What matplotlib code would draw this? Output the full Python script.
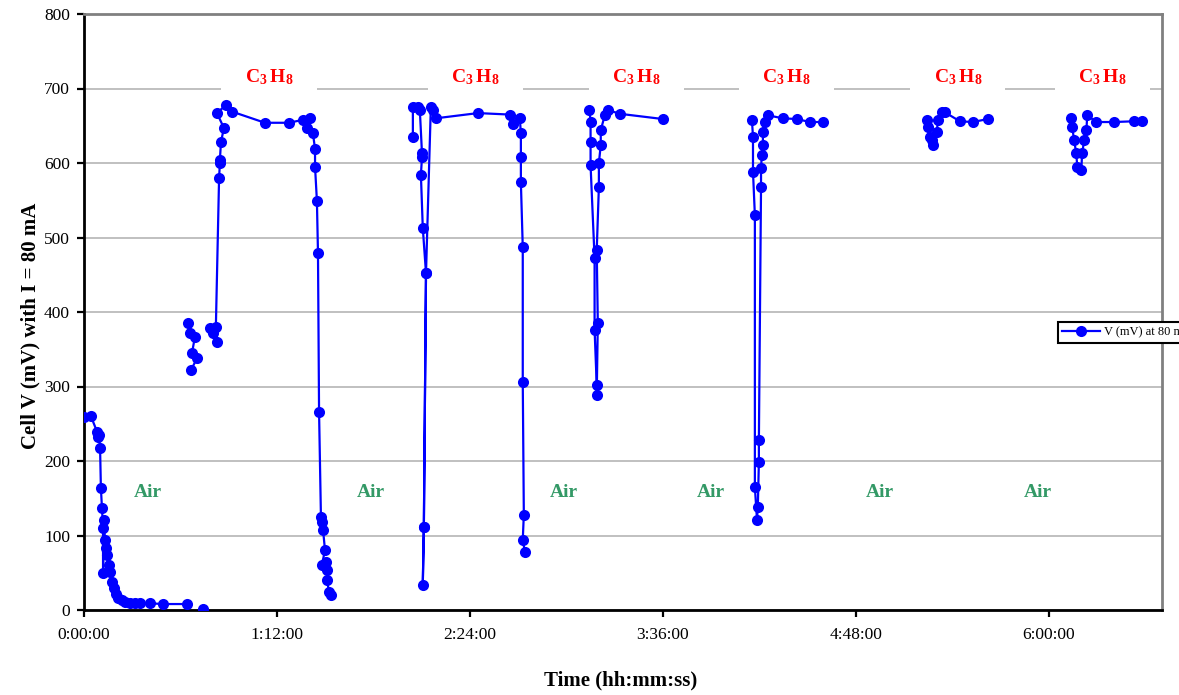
import numpy as np
import matplotlib.pyplot as plt
from matplotlib.ticker import FuncFormatter, MultipleLocator

plt.rcParams['font.family'] = ['Liberation Serif', 'DejaVu Serif']
plt.rcParams['mathtext.fontset'] = 'custom'
plt.rcParams['mathtext.rm'] = 'Liberation Serif'
plt.rcParams['mathtext.bf'] = 'Liberation Serif:bold'

# elapsed time (minutes) and cell voltage (mV), one pair per run
run1_t = [0, 2.6, 4.9, 5.2, 5.6, 6.0, 6.3, 6.7, 7.1, 7.1, 7.5, 7.8, 8.2, 8.6,
          9.3, 9.7, 10.4, 11.2, 11.9, 12.7, 14.2, 15.3, 17.2, 19.0, 20.9,
          24.6, 29.5, 38.4]
run1_v = [259, 260, 239, 232, 235, 217, 164, 137, 110, 50, 121, 94, 83, 74,
          60, 51, 38, 30, 21, 16, 13, 11, 9, 9, 9, 9, 8, 8]

run2_t = [44.4]
run2_v = [2]

run3_t = [38.8, 39.5, 41.4, 40.3, 42.2, 39.9]
run3_v = [385, 372, 367, 345, 338, 322]

run4_t = [47.0, 48.1, 49.6, 49.2, 50.4, 50.7, 50.7, 51.1, 52.2, 49.6, 53.0,
          55.2, 67.5, 76.5, 81.7, 84.3, 83.2, 85.4, 86.2, 86.2, 86.9, 87.3,
          87.7, 88.4, 88.8, 89.2, 89.9, 88.8, 90.3, 90.7, 90.7, 91.4, 92.1]
run4_v = [378, 372, 360, 380, 580, 600, 604, 628, 647, 667, 678,
          669, 654, 654, 658, 660, 647, 640, 619, 595, 549, 479,
          266, 125, 118, 107, 81, 60, 64, 54, 40, 24, 20]

run5_t = [122.7, 122.7, 124.6, 125.3, 126.1, 126.1, 125.7, 126.4, 127.6,
          126.8, 126.4, 126.8, 127.6, 129.4, 130.2, 131.3, 147.0, 158.9,
          160.0, 162.6, 163.0, 163.0, 163.0, 163.7, 163.7, 164.1, 163.7, 164.5]
run5_v = [635, 675, 675, 671, 613, 608, 584, 513, 452,
          111, 34, 112, 452, 675, 671, 660, 667, 665,
          653, 660, 640, 608, 574, 487, 306, 128, 94, 78]

run6_t = [188.6, 189.0, 189.0, 189.0, 190.5, 190.5, 191.3, 191.3, 191.7,
          191.3, 192.1, 192.1, 192.8, 192.8, 194.3, 195.5, 200.0, 216.0]
run6_v = [671, 655, 628, 597, 472, 376, 302, 289, 385,
          483, 568, 600, 624, 644, 664, 671, 666, 659]

run7_t = [249.2, 249.6, 249.6, 250.3, 250.3, 251.1, 251.4, 251.8, 251.8,
          252.6, 252.6, 252.9, 253.3, 253.3, 254.0, 255.2, 260.7, 266.0,
          270.8, 275.7]
run7_v = [658, 635, 588, 530, 165, 121, 138, 199, 228,
          568, 593, 611, 624, 642, 655, 664, 660, 659,
          655, 655]

run8_t = [314.5, 314.8, 315.6, 316.7, 316.4, 318.2, 318.6, 320.1, 321.2,
          326.8, 331.6, 337.2]
run8_v = [658, 648, 635, 624, 631, 642, 658, 668, 668, 656, 655, 659]

run9_t = [368.3, 368.7, 369.4, 370.2, 370.6, 372.1, 372.4, 373.2, 374.0,
          374.3, 377.7, 384.4, 391.7, 394.7]
run9_v = [660, 648, 631, 613, 595, 591, 613, 631, 644, 664, 655, 655, 656, 656]

gas_t = [69, 146, 206, 262, 326, 380]
air_t = [24, 107, 179, 234, 297, 356]

runs = [(run1_t, run1_v), (run2_t, run2_v), (run3_t, run3_v), (run4_t, run4_v),
        (run5_t, run5_v), (run6_t, run6_v), (run7_t, run7_v), (run8_t, run8_v),
        (run9_t, run9_v)]

# join runs with NaN so the line breaks between them
t_all, v_all = [], []
for t, v in runs:
    t_all += list(t) + [np.nan]
    v_all += list(v) + [np.nan]


def hms(x, pos):
    total = int(round(x * 60))
    return f"{total // 3600}:{(total % 3600) // 60:02d}:{total % 60:02d}"


fig = plt.figure(figsize=(11.79, 6.95), dpi=100)
ax = fig.add_axes([84 / 1179, 1 - 610 / 695, 1078 / 1179, 596 / 695])

ax.plot(t_all, v_all, color='blue', lw=1.6, marker='o', ms=8,
        markeredgewidth=0, label='V (mV) at 80 mA', zorder=3)

ax.set_xlim(0, 402.2)
ax.set_ylim(0, 800)
ax.xaxis.set_major_locator(MultipleLocator(72))
ax.xaxis.set_major_formatter(FuncFormatter(hms))
ax.yaxis.set_major_locator(MultipleLocator(100))

ax.grid(axis='y', color='#c0c0c0', lw=1.4, zorder=0)
ax.set_axisbelow(True)

for s in ['left', 'bottom']:
    ax.spines[s].set_color('black')
    ax.spines[s].set_linewidth(2)
for s in ['top', 'right']:
    ax.spines[s].set_color('#808080')
    ax.spines[s].set_linewidth(2)

ax.tick_params(axis='both', direction='out', length=5, width=1.6,
               labelsize=12.5, color='black')
ax.tick_params(axis='x', pad=7)
ax.tick_params(axis='y', pad=5)

ax.set_ylabel('Cell V (mV) with I = 80 mA', fontsize=15, fontweight='bold')
ax.yaxis.set_label_coords(-0.040, 0.476)
ax.set_xlabel('Time (hh:mm:ss)', fontsize=15, fontweight='bold')
ax.xaxis.set_label_coords(0.498, -0.102)

for x in gas_t:
    ax.text(x, 715, r'$\mathbf{C_3\,H_8}$', color='red', fontsize=14,
            ha='center', va='center', zorder=2.5,
            bbox=dict(boxstyle='square,pad=1.2', fc='white', ec='none'))

for x in air_t:
    ax.text(x, 158, 'Air', color='#339966', fontsize=14, fontweight='bold',
            ha='center', va='center')

leg = ax.legend(loc='upper left', bbox_to_anchor=(1058 / 1179, 1 - 322 / 695),
                bbox_transform=fig.transFigure, borderaxespad=0, fontsize=9,
                fancybox=False, framealpha=1, edgecolor='black',
                handlelength=3, borderpad=0.35, handletextpad=0.3)
leg.get_frame().set_linewidth(1.5)

fig.savefig('out.png', dpi=100)
